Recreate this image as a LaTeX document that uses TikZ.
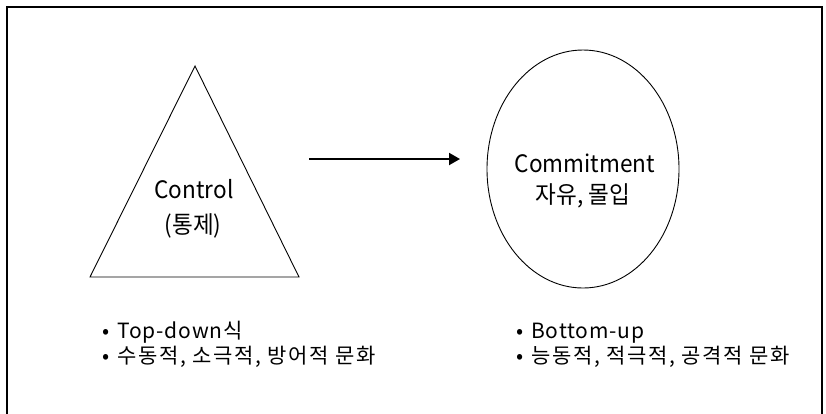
\documentclass[tikz,border=0pt]{standalone}
\usepackage{fontspec}
\setmainfont{Noto Sans CJK KR}
\newfontfamily\lblfont{Noto Sans CJK KR}[FakeStretch=0.94]
\newfontfamily\bulfont{Noto Sans CJK KR}[LetterSpace=8]
\newfontfamily\latfont{Noto Sans CJK KR}[LetterSpace=4]
\usetikzlibrary{arrows.meta,shapes.geometric}
\tikzset{
  shapeline/.style={draw=black, line width=0.9pt},
  lbl/.style={font=\lblfont\fontsize{24}{28}\selectfont, anchor=base, inner sep=0pt},
  bullet/.style={font=\bulfont\fontsize{21}{25}\selectfont, anchor=base west, inner sep=0pt},
  bulletlat/.style={font=\latfont\fontsize{21}{25}\selectfont, anchor=base west, inner sep=0pt},
}
\begin{document}
\begin{tikzpicture}[x=1pt,y=-1pt]
\useasboundingbox (0,0) rectangle (826,413);
\clip (0,0) rectangle (826,413);
\fill[white] (0,0) rectangle (826,413);
% frame
\draw[line width=1.6pt] (7,420) -- (7,7) -- (822,7) -- (822,420);
% triangle
\coordinate (apex) at (195,66);
\coordinate (bl) at (90,277);
\coordinate (br) at (299,277);
\draw[shapeline] (apex) -- (br) -- (bl) -- cycle;
\node[lbl] (control) at (194,198) {Control};
\node[lbl] (tongje) at (193,233) {(통제)};
% ellipse
\node[shapeline, ellipse, minimum width=192pt, minimum height=238pt, inner sep=0pt] (ell) at (583,169) {};
\node[lbl] (commit) at (585,172) {Commitment};
\node[lbl] (jayu) at (583,203) {자유, 몰입};
% arrow
\coordinate (a1) at (309,159);
\coordinate (a2) at (460,159);
\draw[line width=2pt, -{Triangle[length=11pt,width=12pt]}] (a1) -- (a2);
% bullets
\node[bulletlat] (l1) at (102,338) {•\hspace{8pt}Top-down식};
\node[bullet] (l2) at (102,363) {•\hspace{8pt}수동적, 소극적, 방어적 문화};
\node[bulletlat] (r1) at (516,338) {•\hspace{8pt}Bottom-up};
\node[bullet] (r2) at (516,363) {•\hspace{8pt}능동적, 적극적, 공격적 문화};
\end{tikzpicture}
\end{document}
